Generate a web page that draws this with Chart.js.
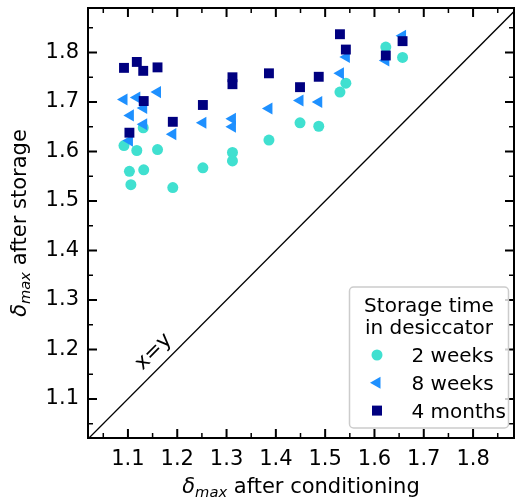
<!DOCTYPE html>
<html>
<head>
<meta charset="utf-8">
<script src="https://cdn.jsdelivr.net/npm/chart.js@4/dist/chart.umd.min.js"></script>
<style>
  body { margin: 0; background: #fff; }
  canvas { display: block; }
</style>
</head>
<body>
<canvas id="deltaChart" width="515" height="504"></canvas>
<script>
// axis limits and tick labels (same on both axes)
const xLimits = [1.019, 1.883];
const yLimits = [1.021, 1.890];
const tickValues = [1.1, 1.2, 1.3, 1.4, 1.5, 1.6, 1.7, 1.8];
const minorTickValues = [1.05, 1.15, 1.25, 1.35, 1.45, 1.55, 1.65, 1.75, 1.85];

const seriesNames = ["2 weeks", "8 weeks", "4 months"];

// delta_max after conditioning (x) / after storage (y)
const weeks2X = [1.131, 1.092, 1.118, 1.160, 1.103, 1.132, 1.106, 1.191, 1.252, 1.312, 1.312, 1.386, 1.449, 1.487, 1.530, 1.542, 1.623, 1.657];
const weeks2Y = [1.648, 1.612, 1.602, 1.604, 1.560, 1.563, 1.533, 1.527, 1.567, 1.598, 1.581, 1.623, 1.658, 1.651, 1.720, 1.738, 1.811, 1.790];

const weeks8X = [1.092, 1.118, 1.132, 1.105, 1.132, 1.160, 1.191, 1.103, 1.252, 1.312, 1.312, 1.386, 1.449, 1.487, 1.531, 1.543, 1.623, 1.657];
const weeks8Y = [1.705, 1.709, 1.688, 1.673, 1.655, 1.720, 1.635, 1.622, 1.658, 1.666, 1.650, 1.687, 1.703, 1.700, 1.758, 1.791, 1.784, 1.834];

const months4X = [1.092, 1.118, 1.131, 1.160, 1.132, 1.103, 1.191, 1.252, 1.312, 1.312, 1.386, 1.449, 1.487, 1.530, 1.542, 1.623, 1.657];
const months4Y = [1.769, 1.781, 1.763, 1.770, 1.702, 1.638, 1.660, 1.694, 1.750, 1.736, 1.758, 1.730, 1.751, 1.837, 1.806, 1.794, 1.823];

const identityLine = [1.0, 1.9];

const FONT = "'DejaVu Sans', sans-serif";
const colors = ["#40e0d0", "#1e90ff", "#000080"];

function toPoints(xs, ys) {
  return xs.map((x, i) => ({ x: x, y: ys[i] }));
}

// draws delta_max + rest of label, centred on cx, baseline cy
function drawDeltaLabel(ctx, rest, cx, cy) {
  const size = 21;
  ctx.font = `italic ${size}px ${FONT}`;
  const wDelta = ctx.measureText("δ").width;
  ctx.font = `italic ${size * 0.7}px ${FONT}`;
  const wSub = ctx.measureText("max").width;
  ctx.font = `${size}px ${FONT}`;
  const wRest = ctx.measureText(" " + rest).width;
  let x = cx - (wDelta + wSub + wRest) / 2;
  ctx.textAlign = "left";
  ctx.textBaseline = "alphabetic";
  ctx.font = `italic ${size}px ${FONT}`;
  ctx.fillText("δ", x, cy);
  x += wDelta;
  ctx.font = `italic ${size * 0.7}px ${FONT}`;
  ctx.fillText("max", x, cy + 4);
  x += wSub;
  ctx.font = `${size}px ${FONT}`;
  ctx.fillText(" " + rest, x, cy);
}

function marker(ctx, style, x, y, color) {
  ctx.fillStyle = color;
  ctx.beginPath();
  if (style === "circle") {
    ctx.arc(x, y, 5.5, 0, Math.PI * 2);
  } else if (style === "triangle") {
    ctx.moveTo(x - 7, y);
    ctx.lineTo(x + 3.5, y - 6);
    ctx.lineTo(x + 3.5, y + 6);
    ctx.closePath();
  } else {
    ctx.rect(x - 5, y - 5, 10, 10);
  }
  ctx.fill();
}

const framePlugin = {
  id: "frame",
  afterDraw(chart) {
    const ctx = chart.ctx;
    const a = chart.chartArea;
    const xs = chart.scales.x;
    const ys = chart.scales.y;
    ctx.save();

    // x=y note
    ctx.save();
    ctx.translate(xs.getPixelForValue(1.152), ys.getPixelForValue(1.195));
    ctx.rotate(-Math.PI / 4);
    ctx.fillStyle = "#000";
    ctx.font = `21px ${FONT}`;
    ctx.textAlign = "center";
    ctx.textBaseline = "middle";
    ctx.fillText("x=y", 0, 0);
    ctx.restore();

    // box
    ctx.strokeStyle = "#000";
    ctx.lineWidth = 2;
    ctx.strokeRect(a.left, a.top, a.right - a.left, a.bottom - a.top);

    // inward ticks on all four sides
    function tick(val, len, width) {
      ctx.lineWidth = width;
      const px = xs.getPixelForValue(val);
      const py = ys.getPixelForValue(val);
      ctx.beginPath();
      ctx.moveTo(px, a.bottom); ctx.lineTo(px, a.bottom - len);
      ctx.moveTo(px, a.top); ctx.lineTo(px, a.top + len);
      ctx.moveTo(a.left, py); ctx.lineTo(a.left + len, py);
      ctx.moveTo(a.right, py); ctx.lineTo(a.right - len, py);
      ctx.stroke();
    }
    tickValues.forEach(v => tick(v, 9, 2));
    minorTickValues.forEach(v => tick(v, 5, 1.5));

    // x tick labels
    ctx.fillStyle = "#000";
    ctx.font = `21px ${FONT}`;
    ctx.textAlign = "center";
    ctx.textBaseline = "alphabetic";
    tickValues.forEach(v => ctx.fillText(v.toFixed(1), xs.getPixelForValue(v), a.bottom + 27));

    // axis titles
    drawDeltaLabel(ctx, "after conditioning", (a.left + a.right) / 2, 493);
    ctx.save();
    ctx.translate(26, (a.top + a.bottom) / 2);
    ctx.rotate(-Math.PI / 2);
    drawDeltaLabel(ctx, "after storage", 0, 0);
    ctx.restore();

    // legend
    const lx = 349.5, ly = 287, lw = 159, lh = 141;
    ctx.beginPath();
    ctx.roundRect(lx, ly, lw, lh, 4);
    ctx.fillStyle = "rgba(255,255,255,0.8)";
    ctx.fill();
    ctx.strokeStyle = "#cccccc";
    ctx.lineWidth = 1.5;
    ctx.stroke();
    ctx.fillStyle = "#000";
    ctx.font = `20px ${FONT}`;
    ctx.textAlign = "center";
    ctx.textBaseline = "alphabetic";
    ctx.fillText("Storage time", lx + lw / 2, 312);
    ctx.fillText("in desiccator", lx + lw / 2, 334);
    const styles = ["circle", "triangle", "rect"];
    seriesNames.forEach((name, i) => {
      const yy = 355 + i * 27.8;
      marker(ctx, styles[i], 377, yy, colors[i]);
      ctx.fillStyle = "#000";
      ctx.textAlign = "left";
      ctx.fillText(name, 411.5, yy + 7);
    });
    ctx.restore();
  }
};

new Chart(document.getElementById("deltaChart"), {
  type: "scatter",
  data: {
    datasets: [
      {
        label: "x=y",
        data: identityLine.map(v => ({ x: v, y: v })),
        showLine: true,
        borderColor: "#000",
        borderWidth: 1.3,
        pointRadius: 0,
        order: 4
      },
      {
        label: seriesNames[0],
        data: toPoints(weeks2X, weeks2Y),
        pointStyle: "circle",
        pointRadius: 5.5,
        backgroundColor: colors[0],
        borderWidth: 0,
        order: 3
      },
      {
        label: seriesNames[1],
        data: toPoints(weeks8X, weeks8Y),
        pointStyle: "triangle",
        pointRotation: -90,
        pointRadius: 7,
        backgroundColor: colors[1],
        borderWidth: 0,
        order: 2
      },
      {
        label: seriesNames[2],
        data: toPoints(months4X, months4Y),
        pointStyle: "rect",
        pointRadius: 7,
        backgroundColor: colors[2],
        borderWidth: 0,
        order: 1
      }
    ]
  },
  options: {
    responsive: false,
    animation: false,
    layout: { autoPadding: false, padding: { top: 8, right: 1, left: 0, bottom: 0 } },
    plugins: {
      legend: { display: false },
      tooltip: { enabled: false }
    },
    scales: {
      x: {
        type: "linear",
        min: xLimits[0],
        max: xLimits[1],
        afterBuildTicks: s => { s.ticks = tickValues.map(v => ({ value: v })); },
        afterFit: s => { s.height = 66; s.paddingLeft = 0; s.paddingRight = 0; },
        grid: { display: false, drawTicks: false },
        border: { display: false },
        ticks: { display: false }
      },
      y: {
        type: "linear",
        min: yLimits[0],
        max: yLimits[1],
        afterBuildTicks: s => { s.ticks = tickValues.map(v => ({ value: v })); },
        afterFit: s => { s.width = 88; s.paddingTop = 0; s.paddingBottom = 0; },
        grid: { display: false, drawTicks: false },
        border: { display: false },
        ticks: {
          padding: 9,
          color: "#000",
          font: { family: FONT, size: 21 },
          callback: v => v.toFixed(1),
          autoSkip: false
        }
      }
    }
  },
  plugins: [framePlugin]
});
</script>
</body>
</html>
